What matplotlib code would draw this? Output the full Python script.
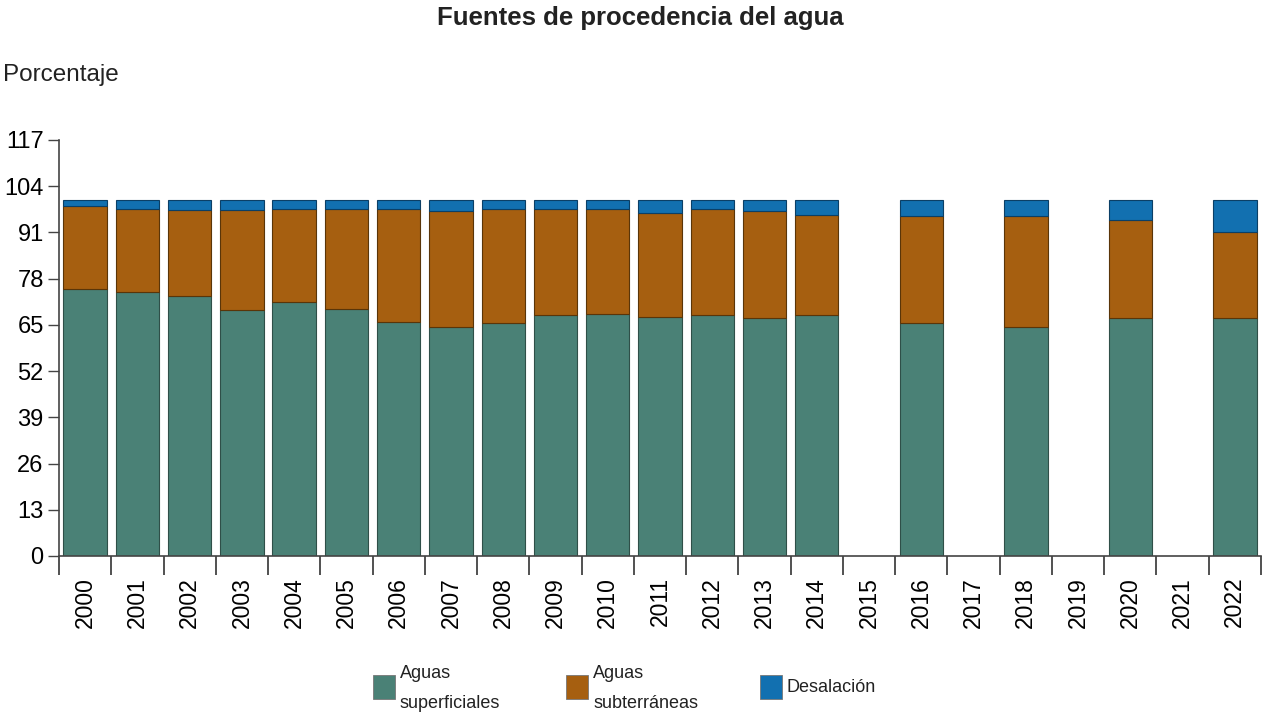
import numpy as np
import matplotlib
matplotlib.use("Agg")
import matplotlib.pyplot as plt
from matplotlib.patches import Rectangle

plt.rcParams['font.family'] = ['Liberation Sans', 'DejaVu Sans']

years = [str(y) for y in range(2000, 2023)]
nan = np.nan
superficiales = [75.2, 74.3, 73.2, 69.3, 71.4, 69.6, 65.7, 64.3, 65.4, 67.7, 68.0, 67.1,
                 67.7, 66.8, 67.9, nan, 65.6, nan, 64.4, nan, 66.8, nan, 66.8]
subterraneas = [23.2, 23.3, 24.0, 27.9, 26.1, 27.9, 31.8, 32.6, 32.3, 30.0, 29.7, 29.5,
                30.0, 30.2, 28.1, nan, 30.0, nan, 31.2, nan, 27.8, nan, 24.4]
desalacion = [1.6, 2.4, 2.8, 2.8, 2.5, 2.5, 2.5, 3.1, 2.3, 2.3, 2.3, 3.4,
              2.3, 3.0, 4.0, nan, 4.4, nan, 4.4, nan, 5.4, nan, 8.8]
series_names = ["Aguas\nsuperficiales", "Aguas\nsubterráneas", "Desalación"]
colors = ["#4a8176", "#a65f10", "#1270b0"]
yticks = [0, 13, 26, 39, 52, 65, 78, 91, 104, 117]

fig = plt.figure(figsize=(12.8, 7.19), dpi=100)
ax = fig.add_axes([59/1280, 1-556/719, 1202/1280, 416/719])

x = np.arange(len(years))
sup = np.array(superficiales)
sub = np.array(subterraneas)
des = np.array(desalacion)
w = 0.83
ax.bar(x, sup, w, color=colors[0], edgecolor="#2f4f48", linewidth=0.8)
ax.bar(x, sub, w, bottom=sup, color=colors[1], edgecolor="#5a3508", linewidth=0.8)
ax.bar(x, des, w, bottom=sup + sub, color=colors[2], edgecolor="#0b3f66", linewidth=0.8)

ax.set_xlim(-0.5, len(years) - 0.5)
ax.set_ylim(0, 117)
ax.set_yticks(yticks)
ax.set_yticklabels([str(v) for v in yticks], fontsize=17)
ax.tick_params(axis='y', length=8, width=1, color="#444444", pad=3)

ax.set_xticks(x)
ax.set_xticklabels(years, rotation=90, fontsize=16.5)
ax.tick_params(axis='x', length=0, pad=15)
ax.set_xticks(np.arange(-0.5, len(years), 1), minor=True)
ax.tick_params(axis='x', which='minor', length=14, width=1.2, color="#333333")

for s in ['top', 'right']:
    ax.spines[s].set_visible(False)
for s in ['left', 'bottom']:
    ax.spines[s].set_color("#444444")
    ax.spines[s].set_linewidth(1.2)

fig.text(640/1280, 1-18/719, "Fuentes de procedencia del agua", ha='center', va='center',
         fontsize=18.5, fontweight='bold', color="#222222")
fig.text(3/1280, 1-75/719, "Porcentaje", ha='left', va='center', fontsize=17.5, color="#222222")

# legend
leg_x = [373, 566, 760]
for lx, c, name in zip(leg_x, colors, series_names):
    fig.add_artist(Rectangle((lx/1280, 1-699/719), 22/1280, 24/719,
                             transform=fig.transFigure, facecolor=c,
                             edgecolor="#777777", linewidth=0.6))
    if "\n" in name:
        l1, l2 = name.split("\n")
        fig.text((lx+27)/1280, 1-673/719, l1, ha='left', va='center', fontsize=13, color="#222222")
        fig.text((lx+27)/1280, 1-703/719, l2, ha='left', va='center', fontsize=13, color="#222222")
    else:
        fig.text((lx+27)/1280, 1-687/719, name, ha='left', va='center', fontsize=13, color="#222222")

fig.savefig("out.png", dpi=100)
